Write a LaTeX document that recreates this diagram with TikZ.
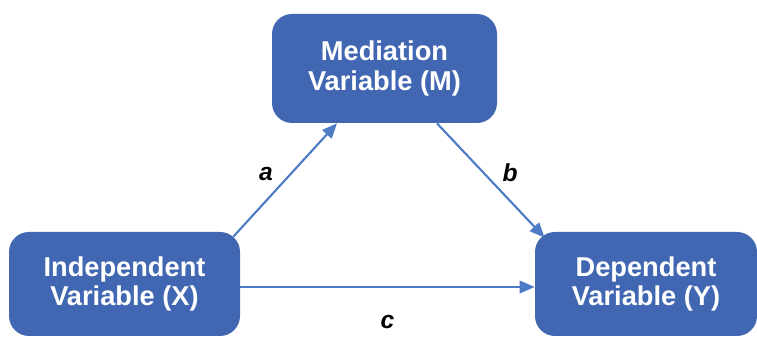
\documentclass[tikz,border=0pt]{standalone}
\usepackage{fontspec}
\setmainfont{Liberation Sans}
\usetikzlibrary{positioning,calc,arrows.meta}
\definecolor{BoxBlue}{HTML}{4267B2}
\definecolor{ArrowBlue}{HTML}{4D7BC6}

\tikzset{
	varbox/.style={
		draw=none,
		fill=BoxBlue,
		rounded corners=0.4cm,
		text=white,
		align=center,
		font=\fontsize{15.5}{16.8}\selectfont\bfseries
	},
	path arrow/.style={
		draw=ArrowBlue,
		line width=1.2pt,
		-{Triangle[length=0.3cm,width=0.25cm]}
	},
	coef/.style={
		font=\fontsize{14}{16}\selectfont\bfseries\itshape,
		text=black
	}
}

\begin{document}
\begin{tikzpicture}
	\useasboundingbox (0,0) rectangle (15.14,6.76);
	
	% variables
	\node[varbox, minimum width=4.5cm, minimum height=2.18cm] (med) at (7.69,5.39)
		{Mediation\\Variable (M)};
	\node[varbox, minimum width=4.62cm, minimum height=2.08cm] (indep) at (2.49,1.08)
		{Independent\\Variable (X)};
	\node[varbox, minimum width=4.44cm, minimum height=2.08cm] (dep) at (12.92,1.08)
		{Dependent\\Variable (Y)};
	
	% paths
	\draw[path arrow] ([shift={(-0.14,-0.1)}]indep.north east) -- ([xshift=-0.95cm]med.south)
		node[coef, pos=0.55, left=6pt] {a};
	\draw[path arrow] ([xshift=1.05cm]med.south) -- ([shift={(0.2,-0.12)}]dep.north west)
		node[coef, pos=0.43, right=7pt] {b};
	\draw[path arrow] ([yshift=-0.06cm]indep.east) -- ([yshift=-0.06cm]dep.west)
		node[coef, midway, below=12pt] {c};
\end{tikzpicture}
\end{document}
